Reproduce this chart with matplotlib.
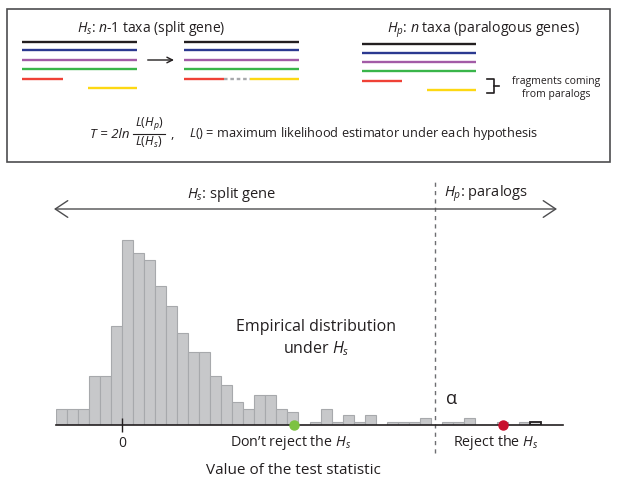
import matplotlib
matplotlib.use("Agg")
import matplotlib.pyplot as plt
from matplotlib.patches import Rectangle

plt.rcParams["font.family"] = ["Open Sans", "DejaVu Sans"]
plt.rcParams["mathtext.fontset"] = "custom"
plt.rcParams["mathtext.rm"] = "Open Sans"
plt.rcParams["mathtext.it"] = "Open Sans:italic"
plt.rcParams["mathtext.bf"] = "Open Sans:bold"

# empirical distribution of the test statistic under Hs (counts per unit bin)
bin_edges = list(range(-6, 39))
counts = [5, 5, 5, 15, 15, 30, 56, 52, 50, 42, 36, 28, 22, 22, 15, 12, 7, 5,
          9, 9, 5, 4, 0, 1, 5, 1, 3, 1, 3, 0, 1, 1, 1, 2, 0, 1, 1, 2, 0, 0,
          1, 0, 1, 1]
observed_ok = 15.6      # green point, not rejected
observed_rej = 34.6     # red point, rejected
alpha_cut = 28.4        # critical value
x_ticks = [0]
x_ticklabels = ["0"]

# schematic genes: row heights (pixels of the top panel) and colours
gene_colors = ["#231f20", "#2b3990", "#a25ba6", "#39b54a"]
left_rows = [41.7, 50.3, 59.7, 69.0]
right_rows = [44.0, 52.7, 62.0, 71.3]

W, H = 618, 484
fig = plt.figure(figsize=(W / 100, H / 100), dpi=100)

# ---- histogram ----
ax = fig.add_axes([56 / W, (H - 425) / H, 507 / W, 198 / H])
centers = [(bin_edges[i] + bin_edges[i + 1]) / 2 for i in range(len(counts))]
bars = ax.bar(centers, counts, width=1.0, color="#c7c8ca",
              edgecolor="#a7a9ac", linewidth=0.8)
bars[-1].set_facecolor("#d9dadb")
bars[-1].set_edgecolor("#231f20")
bars[-1].set_linewidth(1.3)
ax.set_xlim(-6, 40)
ax.set_ylim(0, 60)
for s in ["top", "right", "left"]:
    ax.spines[s].set_visible(False)
ax.spines["bottom"].set_linewidth(1.2)
ax.spines["bottom"].set_color("#231f20")
ax.set_yticks([])
ax.set_xticks(x_ticks)
ax.set_xticklabels(x_ticklabels, fontsize=10)
ax.tick_params(axis="x", direction="inout", length=10, width=1, pad=3,
               colors="#231f20")
ax.plot([observed_ok], [0], "o", color="#7dc242", markersize=6.5,
        clip_on=False, zorder=5)
ax.plot([observed_rej], [0], "o", color="#c8102e", markersize=6.5,
        clip_on=False, zorder=5)
ax.plot([alpha_cut, alpha_cut], [-8.5, 74], color="#6d6e71", lw=1,
        ls=(0, (3, 3)), clip_on=False)

# ---- overlay in pixel coordinates ----
ov = fig.add_axes([0, 0, 1, 1])
ov.set_xlim(0, W)
ov.set_ylim(H, 0)
ov.axis("off")
ov.patch.set_visible(False)

ov.add_patch(Rectangle((7.3, 8.5), 602.7, 153.5, fill=False,
                       edgecolor="#4d4d4f", lw=1.2))

# left group (split gene)
for y, c in zip(left_rows, gene_colors):
    ov.plot([22.3, 136.7], [y, y], color=c, lw=1.7, solid_capstyle="butt")
ov.plot([22.3, 62.7], [78.7, 78.7], color="#ef4136", lw=1.7, solid_capstyle="butt")
ov.plot([87.7, 136.7], [87.7, 87.7], color="#fdd813", lw=1.7, solid_capstyle="butt")
ov.annotate("", xy=(174, 60), xytext=(147.7, 60),
            arrowprops=dict(arrowstyle="->", color="#231f20", lw=1,
                            shrinkA=0, shrinkB=0))
# middle group (merged)
for y, c in zip(left_rows, gene_colors):
    ov.plot([184.3, 299], [y, y], color=c, lw=1.7, solid_capstyle="butt")
ov.plot([184.3, 224], [78.7, 78.7], color="#ef4136", lw=1.7, solid_capstyle="butt")
ov.plot([224, 250], [78.7, 78.7], color="#a7a9ac", lw=1.7, ls=(0, (1.5, 1.2)))
ov.plot([250, 299], [78.7, 78.7], color="#fdd813", lw=1.7, solid_capstyle="butt")
# right group (paralogs)
for y, c in zip(right_rows, gene_colors):
    ov.plot([362, 475.6], [y, y], color=c, lw=1.7, solid_capstyle="butt")
ov.plot([362, 402], [81, 81], color="#ef4136", lw=1.7, solid_capstyle="butt")
ov.plot([427, 475.6], [90, 90], color="#fdd813", lw=1.7, solid_capstyle="butt")
ov.plot([487, 494, 494, 487], [79.3, 79.3, 93.3, 93.3], color="#231f20", lw=1.2)
ov.plot([494, 499], [86.3, 86.3], color="#231f20", lw=1.2)
ov.text(556, 88, "fragments coming\nfrom paralogs", fontsize=7.5,
        ha="center", va="center", color="#231f20", linespacing=1.3)

ov.text(77, 29, r"$H_s$: $n$-$\mathit{1}$ taxa (split gene)", fontsize=10,
        ha="left", va="center", color="#231f20")
ov.text(387, 30, r"$H_p$: $n$ taxa (paralogous genes)", fontsize=10.2,
        ha="left", va="center", color="#231f20")

# formula
ov.text(90, 134, "T = 2ln", style="italic", fontsize=9.5, ha="left",
        va="center", color="#231f20")
ov.text(149, 132.5, r"$L(H_p)$", fontsize=9, ha="center", va="bottom",
        color="#231f20")
ov.text(149, 135, r"$L(H_s)$", fontsize=9, ha="center", va="top",
        color="#231f20")
ov.plot([133, 165], [133.8, 133.8], color="#231f20", lw=0.8)
ov.text(170, 135, ",", fontsize=9.5, ha="left", va="center", color="#231f20")
ov.text(189, 134, r"$L()$ = maximum likelihood estimator under each hypothesis",
        fontsize=9.2, ha="left", va="center", color="#231f20")

# bottom panel annotations
ov.annotate("", xy=(54, 209), xytext=(557, 209),
            arrowprops=dict(arrowstyle="<->,head_length=0.9,head_width=0.6",
                            color="#4d4d4f", lw=1, shrinkA=0, shrinkB=0))
ov.text(232, 195, r"$H_s$: split gene", fontsize=10.5, ha="center",
        va="center", color="#231f20")
ov.text(444, 194, r"$H_p$: paralogs", fontsize=10.5, ha="left",
        va="center", color="#231f20")
ov.text(316, 327, "Empirical distribution", fontsize=11.5, ha="center",
        va="center", color="#231f20")
ov.text(316, 349, r"under $H_s$", fontsize=11.5, ha="center",
        va="center", color="#231f20")
ov.text(446, 399, "α", fontsize=13, ha="left", va="center", color="#231f20")
ov.text(230, 442, r"Don’t reject the $H_s$", fontsize=10.3, ha="left",
        va="center", color="#231f20")
ov.text(453, 442, r"Reject the $H_s$", fontsize=10.3, ha="left",
        va="center", color="#231f20")
ov.text(293, 470, "Value of the test statistic", fontsize=11, ha="center",
        va="center", color="#231f20")

fig.savefig("out.png", dpi=100)
